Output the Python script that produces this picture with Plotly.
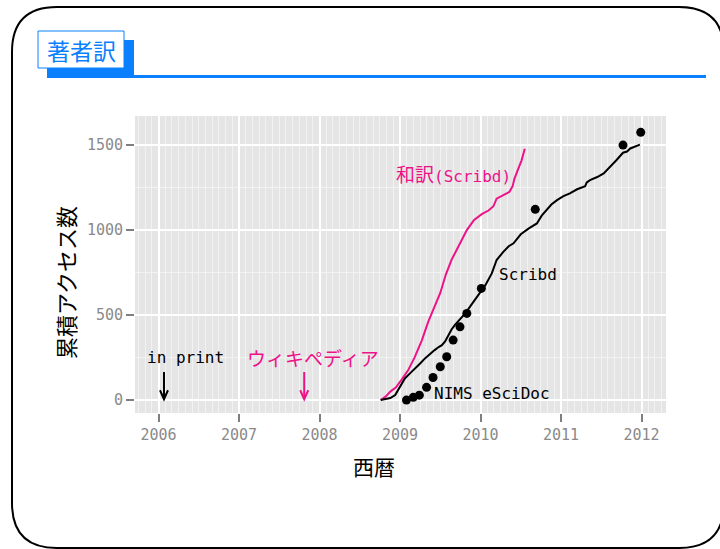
import plotly.graph_objects as go

# ---------------- data ----------------
years_ticks = [2006, 2007, 2008, 2009, 2010, 2011, 2012]
year_labels = ["2006", "2007", "2008", "2009", "2010", "2011", "2012"]
y_ticks = [0, 500, 1000, 1500]
y_labels = ["0", "500", "1000", "1500"]

# 和訳(Scribd) cumulative accesses
wayaku_x = [2008.76, 2008.82, 2008.88, 2008.95, 2009.02, 2009.10, 2009.18, 2009.27,
            2009.35, 2009.43, 2009.50, 2009.57, 2009.64, 2009.70, 2009.76, 2009.83,
            2009.92, 2010.02, 2010.10, 2010.16, 2010.20, 2010.28, 2010.36, 2010.40,
            2010.42, 2010.46, 2010.51, 2010.55]
wayaku_y = [0, 20, 50, 75, 120, 175, 250, 350,
            460, 550, 630, 740, 825, 880, 940, 1000,
            1060, 1095, 1115, 1140, 1185, 1205, 1225, 1260,
            1300, 1350, 1410, 1478]

# Scribd cumulative accesses
scribd_x = [2008.76, 2008.82, 2008.88, 2008.94, 2009.00, 2009.06, 2009.13, 2009.19,
            2009.25, 2009.31, 2009.37, 2009.43, 2009.48, 2009.52, 2009.56, 2009.60,
            2009.64, 2009.68, 2009.74, 2009.81, 2009.87, 2009.93, 2010.00, 2010.06,
            2010.14, 2010.20, 2010.28, 2010.35, 2010.41, 2010.50, 2010.60, 2010.70,
            2010.76, 2010.82, 2010.88, 2010.95, 2011.03, 2011.11, 2011.20, 2011.30,
            2011.32, 2011.36, 2011.45, 2011.53, 2011.61, 2011.69, 2011.77, 2011.82,
            2011.86, 2011.92, 2011.98]
scribd_y = [0, 8, 12, 30, 78, 127, 160, 186,
            215, 245, 272, 294, 312, 323, 345, 382,
            415, 441, 470, 510, 550, 588, 635, 676,
            745, 824, 870, 905, 922, 975, 1010, 1039,
            1085, 1118, 1150, 1176, 1200, 1216, 1240, 1258,
            1280, 1294, 1312, 1333, 1370, 1412, 1455, 1462,
            1480, 1490, 1503]

# NIMS eSciDoc cumulative accesses
nims_x = [2009.08, 2009.165, 2009.24, 2009.33, 2009.41, 2009.50, 2009.58,
          2009.66, 2009.745, 2009.83, 2010.01, 2010.68, 2011.77, 2011.99]
nims_y = [0, 16, 29, 75, 133, 196, 255,
          353, 431, 510, 657, 1122, 1500, 1575]

# events (arrows)
event_names = ["in print", "ウィキペディア"]
event_x = [2006.068, 2007.81]

# ---------------- layout helpers ----------------
W, H = 720, 549
L, R, T, B = 135, 666, 116, 413
XR = [2005.708, 2012.304]
YR = [-76, 1671]

PINK = "#EE1289"
BLUE = "#0A80FF"
MONO = "DejaVu Sans Mono, Noto Sans CJK JP"
CJK = "Noto Sans CJK JP"


def pp(x, y):
    return (x - L) / (R - L), (B - y) / (B - T)


def path_px(cmds):
    out = []
    for c in cmds:
        if isinstance(c, str):
            out.append(c)
        else:
            a, b = pp(*c)
            out.append(f"{a:.5f},{b:.5f}")
    return " ".join(out)


fig = go.Figure()

fig.add_trace(go.Scatter(x=wayaku_x, y=wayaku_y, mode="lines",
                         line=dict(color=PINK, width=2), showlegend=False,
                         hoverinfo="skip"))
fig.add_trace(go.Scatter(x=scribd_x, y=scribd_y, mode="lines",
                         line=dict(color="black", width=2), showlegend=False,
                         hoverinfo="skip"))
fig.add_trace(go.Scatter(x=nims_x, y=nims_y, mode="markers",
                         marker=dict(color="black", size=9), showlegend=False,
                         hoverinfo="skip"))

# per-pixel data units
dx = (XR[1] - XR[0]) / (R - L)
dy = (YR[1] - YR[0]) / (B - T)

shapes = []
ev_colors = ["black", PINK]
for ex, col in zip(event_x, ev_colors):
    top, bot = 165, 5
    shapes.append(dict(type="line", x0=ex, x1=ex, y0=top, y1=bot,
                       line=dict(color=col, width=2), xref="x", yref="y"))
    shapes.append(dict(type="path", xref="x", yref="y",
                       path=f"M {ex - 4*dx},{bot + 9*dy} L {ex},{bot} L {ex + 4*dx},{bot + 9*dy}",
                       line=dict(color=col, width=2)))

# slide frame: rounded rectangle
r = 45
x0, x1, y0, y1 = 12, 724, 7, 548
frame = path_px(["M", (x0 + r, y0), "L", (x1 - r, y0), "Q", (x1, y0), (x1, y0 + r),
                 "L", (x1, y1 - r), "Q", (x1, y1), (x1 - r, y1),
                 "L", (x0 + r, y1), "Q", (x0, y1), (x0, y1 - r),
                 "L", (x0, y0 + r), "Q", (x0, y0), (x0 + r, y0), "Z"])
shapes.append(dict(type="path", xref="paper", yref="paper", path=frame,
                   line=dict(color="black", width=2), fillcolor="rgba(0,0,0,0)",
                   layer="above"))

# title decorations
def rect(xa, ya, xb, yb, **kw):
    a0, b0 = pp(xa, yb)
    a1, b1 = pp(xb, ya)
    d = dict(type="rect", xref="paper", yref="paper", x0=a0, x1=a1, y0=b0, y1=b1,
             layer="above")
    d.update(kw)
    return d

shapes.append(rect(47, 75, 706, 78, fillcolor=BLUE, line=dict(width=0)))
shapes.append(rect(47, 40, 134, 78, fillcolor=BLUE, line=dict(width=0)))
shapes.append(rect(38, 31, 124, 68, fillcolor="white", line=dict(color=BLUE, width=1)))

annotations = []
tx, ty = pp(81, 50)
annotations.append(dict(text="著者訳", x=tx, y=ty, xref="paper", yref="paper",
                        showarrow=False, font=dict(family=CJK, size=23, color=BLUE),
                        xanchor="center", yanchor="middle"))

# axis titles
ax_, ay_ = pp(374, 466)
annotations.append(dict(text="西暦", x=ax_, y=ay_, xref="paper", yref="paper",
                        showarrow=False, font=dict(family=CJK, size=21, color="black"),
                        xanchor="center", yanchor="middle"))
ax_, ay_ = pp(65, 283)
annotations.append(dict(text="累積アクセス数", x=ax_, y=ay_, xref="paper", yref="paper",
                        showarrow=False, textangle=-90,
                        font=dict(family=CJK, size=22, color="black"),
                        xanchor="center", yanchor="middle"))

# series labels
annotations.append(dict(text='<span style="font-family:Noto Sans CJK JP;font-size:19px">和訳</span>(Scribd)',
                        x=2010.40, y=1335, xanchor="right",
                        yanchor="middle", showarrow=False,
                        font=dict(family=MONO, size=16, color=PINK)))
annotations.append(dict(text="Scribd", x=2010.205, y=741, xanchor="left",
                        yanchor="middle", showarrow=False,
                        font=dict(family=MONO, size=16, color="black")))
annotations.append(dict(text="NIMS eSciDoc", x=2009.397, y=41, xanchor="left",
                        yanchor="middle", showarrow=False,
                        font=dict(family=MONO, size=16, color="black")))
annotations.append(dict(text=event_names[0], x=2006.33, y=253, xanchor="center",
                        yanchor="middle", showarrow=False,
                        font=dict(family=MONO, size=16, color="black")))
annotations.append(dict(text=event_names[1], x=2007.92, y=253, xanchor="center",
                        yanchor="middle", showarrow=False,
                        font=dict(family=CJK, size=19, color=PINK)))

fig.update_layout(
    width=W, height=H,
    margin=dict(l=L, r=W - R, t=T, b=H - B, pad=0),
    paper_bgcolor="white",
    plot_bgcolor="#E5E5E5",
    shapes=shapes,
    annotations=annotations,
    showlegend=False,
)
fig.update_xaxes(range=XR, tickvals=years_ticks, ticktext=year_labels,
                 showgrid=True, gridcolor="white", gridwidth=1.5,
                 minor=dict(dtick=1/12, tick0=2006, showgrid=True,
                            gridcolor="#F2F2F2", gridwidth=0.8),
                 ticks="outside", ticklen=8, tickwidth=1.5, tickcolor="#7F7F7F",
                 tickfont=dict(family=MONO, size=15, color="#8A8A8A"),
                 zeroline=False, showline=False, fixedrange=True)
fig.update_yaxes(range=YR, tickvals=y_ticks, ticktext=y_labels,
                 showgrid=True, gridcolor="white", gridwidth=1.5,
                 minor=dict(dtick=250, tick0=0, showgrid=True,
                            gridcolor="#F2F2F2", gridwidth=0.8),
                 ticks="outside", ticklen=8, tickwidth=1.5, tickcolor="#7F7F7F",
                 tickfont=dict(family=MONO, size=15, color="#8A8A8A"),
                 zeroline=False, showline=False, fixedrange=True)

fig.write_html("out.html")
